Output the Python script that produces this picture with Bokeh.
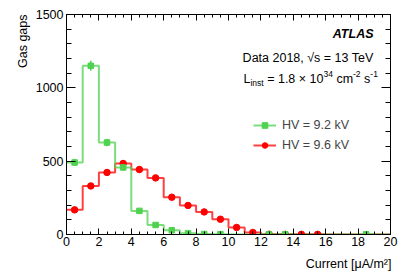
import numpy as np
from bokeh.plotting import figure
from bokeh.models import (Range1d, LinearAxis, FixedTicker, Label, Legend,
                          LegendItem, ColumnDataSource, Title)
from bokeh.embed import file_html
from bokeh.resources import INLINE

# ---------------- data ----------------
bin_edges = list(range(0, 21))
hv92_counts = [491, 1150, 627, 457, 161, 65, 29, 9, 3, 2, 0, 0, 1, 1, 0, 0, 0, 0, 1, 0]
hv96_counts = [168, 331, 423, 484, 443, 386, 254, 198, 154, 104, 48, 14, 2, 1, 1, 1, 0, 0, 0, 0]
x_major_ticks = [0, 2, 4, 6, 8, 10, 12, 14, 16, 18, 20]
y_major_ticks = [0, 500, 1000, 1500]
series_labels = ["HV = 9.2 kV", "HV = 9.6 kV"]
x_title = "Current [μA/m²]"
y_title = "Gas gaps"

FONT = "Liberation Sans"
GREEN = "#4fd24f"
RED = "#ff0000"

# frame position on the page (for annotation placement)
FL, FB = 66, 234

p = figure(width=405, height=277, x_range=Range1d(0, 20), y_range=Range1d(0, 1500),
           output_backend="svg", toolbar_location=None,
           x_axis_location=None, y_axis_location=None,
           min_border_left=66, min_border_right=15, min_border_top=14, min_border_bottom=43)
p.xgrid.visible = False
p.ygrid.visible = False
p.outline_line_color = "black"
p.background_fill_color = "white"
p.border_fill_color = "white"

x_minor = list(np.arange(0, 20.001, 0.5))
y_minor = list(np.arange(0, 1500.001, 100))


def make_axis(side, ticks, minor, tin, min_in, labels, standoff=3):
    ax = LinearAxis(ticker=FixedTicker(ticks=ticks, minor_ticks=minor))
    ax.major_tick_in = tin
    ax.major_tick_out = 0
    ax.minor_tick_in = min_in
    ax.minor_tick_out = 0
    ax.axis_line_color = "black"
    ax.major_tick_line_color = "black"
    ax.minor_tick_line_color = "black"
    ax.major_label_text_font = FONT
    if labels:
        ax.major_label_text_color = "black"
        ax.major_label_text_font_size = "12.5px"
        ax.major_label_standoff = standoff
    else:
        ax.major_label_text_color = None
        ax.major_label_text_font_size = "1px"
        ax.major_label_standoff = 0
    p.add_layout(ax, side)
    return ax


make_axis("below", x_major_ticks, x_minor, 6, 3, True, standoff=2)
make_axis("above", x_major_ticks, x_minor, 6, 3, False)
make_axis("left", y_major_ticks, y_minor, 9, 5, True, standoff=3)
make_axis("right", y_major_ticks, y_minor, 9, 5, False)

# axis titles, right/top aligned as in ROOT
p.add_layout(Title(text=x_title, align="right", offset=-1, standoff=13,
                   text_font=FONT, text_font_size="12.5px", text_font_style="normal",
                   text_color="black"), "below")
p.add_layout(Title(text=y_title, align="right", offset=0, standoff=5,
                   text_font=FONT, text_font_size="12.5px", text_font_style="normal",
                   text_color="black"), "left")

# ---------------- histograms ----------------
centers = [(a + b) / 2 for a, b in zip(bin_edges[:-1], bin_edges[1:])]


def hist(counts, color):
    step_src = ColumnDataSource(dict(x=bin_edges, y=counts + [counts[-1]]))
    line = p.step("x", "y", source=step_src, mode="after", line_color=color,
                  line_width=2, line_alpha=0.75)
    pts = [(c, v) for c, v in zip(centers, counts) if v > 0]
    cx = [a for a, _ in pts]
    cy = [b for _, b in pts]
    err = [np.sqrt(b) for b in cy]
    src = ColumnDataSource(dict(x=cx, y=cy, lo=[b - e for b, e in zip(cy, err)],
                                hi=[b + e for b, e in zip(cy, err)]))
    return line, src


r_line, r_src = hist(hv96_counts, RED)
g_line, g_src = hist(hv92_counts, GREEN)

p.segment("x", "lo", "x", "hi", source=r_src, line_color=RED, line_width=1.5)
r_pts = p.scatter("x", "y", source=r_src, marker="circle", size=6.5,
                  fill_color=RED, line_color=RED)
p.segment("x", "lo", "x", "hi", source=g_src, line_color=GREEN, line_width=1.5)
g_pts = p.scatter("x", "y", source=g_src, marker="square", size=5.5,
                  fill_color=GREEN, line_color=GREEN)

# ---------------- legend ----------------
legend = Legend(items=[LegendItem(label=series_labels[0], renderers=[g_line, g_pts]),
                       LegendItem(label=series_labels[1], renderers=[r_line, r_pts])],
                location=(253 - FL, FB - 152), glyph_width=23, glyph_height=14,
                label_height=14, label_standoff=6, spacing=6, padding=0, margin=0,
                label_text_font=FONT, label_text_font_size="12.5px",
                border_line_alpha=0, background_fill_alpha=0)
p.add_layout(legend)


# ---------------- texts ----------------
def txt(text, px, py, size="12.5px", align="left", style="normal", angle=0.0):
    p.add_layout(Label(x=px - FL, y=FB - py, x_units="screen", y_units="screen",
                       text=text, text_font=FONT, text_font_size=size,
                       text_align=align, text_baseline="middle",
                       text_font_style=style, angle=angle, text_color="black"))


txt("ATLAS", 373, 33, style="bold italic", align="right")
txt("Data 2018, √s = 13 TeV", 373, 57, align="right")
# L_inst = 1.8 x 10^34 cm^-2 s^-1, built from pieces (text, size, dy, width_em, lead_space)
SP = 0.278
pieces = [("L", 12.5, 0, 0.556, False), ("inst", 8.5, 4.5, 1.556, False),
          ("= 1.8 × 10", 12.5, 0, 4.504, True), ("34", 8.5, -4.5, 1.112, False),
          ("cm", 12.5, 0, 1.333, True), ("-2", 8.5, -4.5, 0.889, False),
          ("s", 12.5, 0, 0.5, True), ("-1", 8.5, -4.5, 0.889, False)]
cur = 243.0
for t, fs, dy, em, lead in pieces:
    if lead:
        cur += SP * 12.5
    txt(t, cur, 78 + dy, size=f"{fs}px")
    cur += em * fs

open("out.html", "w").write(file_html(p, INLINE))
